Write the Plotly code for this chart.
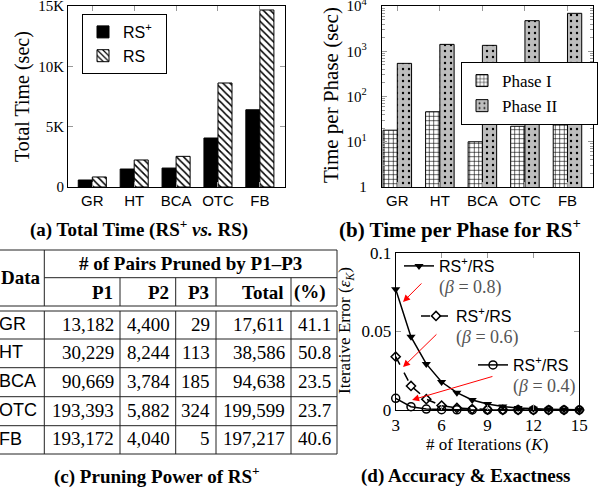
import plotly.graph_objects as go

W, H = 607, 490
SERIF = "Liberation Serif"
SANS = "Liberation Sans"

# ---------------- data ----------------
datasets = ["GR", "HT", "BCA", "OTC", "FB"]
total_rs_plus = [580, 1490, 1570, 4060, 6400]
total_rs = [830, 2240, 2540, 8620, 14670]
phase1 = [18, 46, 10, 22, 25.5]
phase2 = [540, 1420, 1350, 4740, 6890]

iters = [3, 4, 5, 6, 7, 8, 9, 10, 11, 12, 13, 14, 15]
err_b08 = [0.0767, 0.0465, 0.0293, 0.0178, 0.0110, 0.0064, 0.0038, 0.0022, 0.0013, 0.0008, 0.0005, 0.0003, 0.0002]
err_b06 = [0.0339, 0.0153, 0.0069, 0.0028, 0.0013, 0.0006, 0.0003, 0.0001, 0.0001, 0.0, 0.0, 0.0, 0.0]
err_b04 = [0.0074, 0.0021, 0.0006, 0.0002, 0.0001, 0.0, 0.0, 0.0, 0.0, 0.0, 0.0, 0.0, 0.0]

tab_data = ["GR", "HT", "BCA", "OTC", "FB"]
tab_p1 = ["13,182", "30,229", "90,669", "193,393", "193,172"]
tab_p2 = ["4,400", "8,244", "3,784", "5,882", "4,040"]
tab_p3 = ["29", "113", "185", "324", "5"]
tab_total = ["17,611", "38,586", "94,638", "199,599", "197,217"]
tab_pct = ["41.1", "50.8", "23.5", "23.7", "40.6"]
tab_sub_headers = ["P1", "P2", "P3", "Total", "(%)"]

# ---------------- helpers ----------------
def px_x(x):
    return x / W

def px_y(y):
    return 1 - y / H

NB = "\u00a0"
fig = go.Figure()

# (a) total time
fig.add_trace(go.Bar(x=datasets, y=total_rs_plus, name="RS<sup>+</sup>" + NB * 2,
                     marker=dict(color="black", line=dict(color="black", width=1)),
                     xaxis="x", yaxis="y", legend="legend"))
fig.add_trace(go.Bar(x=datasets, y=total_rs, name="RS",
                     marker=dict(color="white", line=dict(color="black", width=1),
                                 pattern=dict(shape="\\", fgcolor="black", bgcolor="white",
                                              size=5, solidity=0.3)),
                     xaxis="x", yaxis="y", legend="legend"))

# (b) time per phase
fig.add_trace(go.Bar(x=datasets, y=phase1, name="Phase I",
                     marker=dict(color="white", line=dict(color="black", width=1),
                                 pattern=dict(shape="+", fgcolor="black", bgcolor="white",
                                              size=4.5, solidity=0.25)),
                     xaxis="x2", yaxis="y2", legend="legend2"))
fig.add_trace(go.Bar(x=datasets, y=phase2, name="Phase II" + NB * 8,
                     marker=dict(color="#bdbdbd", line=dict(color="black", width=1),
                                 pattern=dict(shape=".", fgcolor="black", bgcolor="#bdbdbd",
                                              size=6, solidity=0.12)),
                     xaxis="x2", yaxis="y2", legend="legend2"))

# (d) accuracy
beta_lbl = ("<br><span style='font-family:Liberation Serif;font-size:18px;color:#555'>"
            "(<i>β</i> = {})</span>")
fig.add_trace(go.Scatter(x=iters, y=err_b08, mode="lines+markers",
                         name="RS<sup>+</sup>/RS" + beta_lbl.format("0.8"),
                         line=dict(color="black", width=1.5),
                         marker=dict(symbol="triangle-down", size=8, color="black"),
                         cliponaxis=False, xaxis="x3", yaxis="y3", legend="legend3"))
fig.add_trace(go.Scatter(x=iters, y=err_b06, mode="lines+markers",
                         name="RS<sup>+</sup>/RS" + beta_lbl.format("0.6"),
                         line=dict(color="black", width=1.5, dash="dash"),
                         marker=dict(symbol="diamond-open", size=7, color="black",
                                     line=dict(width=1.5, color="black")),
                         cliponaxis=False, xaxis="x3", yaxis="y3", legend="legend4"))
fig.add_trace(go.Scatter(x=iters, y=err_b04, mode="lines+markers",
                         name="RS<sup>+</sup>/RS" + beta_lbl.format("0.4"),
                         line=dict(color="black", width=1.5),
                         marker=dict(symbol="circle-open", size=8, color="black",
                                     line=dict(width=1.5, color="black")),
                         cliponaxis=False, xaxis="x3", yaxis="y3", legend="legend5"))

# ---------------- axes ----------------
tick_gray = "#999999"
common_ax = dict(showline=True, linecolor="black", linewidth=1, mirror="ticks",
                 ticks="inside", tickcolor=tick_gray, ticklen=5, showgrid=False,
                 zeroline=False, fixedrange=True, automargin=False,
                 ticklabeloverflow="allow")

log_minor = [m * 10 ** e for e in range(0, 4) for m in range(2, 10)]
log_text = ["1", "10<sup>1</sup>", "10<sup>2</sup>", "10<sup>3</sup>", "10<sup>4</sup>"]

TX0, TX1, TY0, TY1 = 0, 340, 245, 460   # table region (pixels)

layout = dict(
    template="none",
    width=W, height=H, margin=dict(l=0, r=0, t=0, b=0, pad=0, autoexpand=False),
    paper_bgcolor="white", plot_bgcolor="white",
    barmode="group", bargap=0.33, bargroupgap=0,
    xaxis=dict(domain=[px_x(68), px_x(285)], range=[-0.58, 4.6], anchor="y",
               tickfont=dict(family=SANS, size=15, color="black"), **common_ax),
    yaxis=dict(domain=[px_y(187), px_y(6)], range=[0, 15000], anchor="x",
               tickvals=[0, 5000, 10000, 15000], ticktext=["0", "5K", "10K", "15K"],
               tickfont=dict(family=SERIF, size=15, color="black"), **common_ax),
    xaxis2=dict(domain=[px_x(382), px_x(593)], range=[-0.36, 4.6], anchor="y2",
                tickfont=dict(family=SANS, size=15, color="black"), **common_ax),
    yaxis2=dict(domain=[px_y(187), px_y(6)], type="log", range=[0, 4], anchor="x2",
                tickvals=[1, 10, 100, 1000, 10000],
                ticktext=[t + NB * 3 for t in log_text],
                tickfont=dict(family=SERIF, size=15, color="black"),
                minor=dict(tickmode="array", tickvals=log_minor, ticks="inside", ticklen=3,
                           tickcolor=tick_gray, showgrid=False),
                **common_ax),
    xaxis3=dict(domain=[px_x(395.7), px_x(579.3)], range=[3, 15], anchor="y3",
                tickvals=[3, 6, 9, 12, 15],
                tickfont=dict(family=SERIF, size=17, color="black"), **common_ax),
    yaxis3=dict(domain=[px_y(410), px_y(252.7)], range=[0, 0.1], anchor="x3",
                tickvals=[0, 0.05, 0.1], ticktext=["0", "0.05", "0.1"],
                tickfont=dict(family=SERIF, size=17, color="black"), **common_ax),
    xaxis4=dict(domain=[px_x(TX0), px_x(TX1)], range=[TX0, TX1], visible=False,
                anchor="y4", fixedrange=True),
    yaxis4=dict(domain=[px_y(TY1), px_y(TY0)], range=[TY1, TY0], visible=False,
                anchor="x4", fixedrange=True),
    legend=dict(x=px_x(82), y=px_y(14), xanchor="left", yanchor="top",
                bordercolor="black", borderwidth=1, bgcolor="white",
                font=dict(family=SANS, size=16, color="black"), tracegroupgap=0),
    legend2=dict(x=px_x(461), y=px_y(62), xanchor="left", yanchor="top",
                 bordercolor="black", borderwidth=1, bgcolor="white",
                 font=dict(family=SERIF, size=17, color="black"), tracegroupgap=0),
    legend3=dict(x=px_x(399), y=px_y(249), xanchor="left", yanchor="top", valign="top",
                 bgcolor="rgba(0,0,0,0)", font=dict(family=SANS, size=16, color="black")),
    legend4=dict(x=px_x(416), y=px_y(299), xanchor="left", yanchor="top", valign="top",
                 bgcolor="rgba(0,0,0,0)", font=dict(family=SANS, size=16, color="black")),
    legend5=dict(x=px_x(473), y=px_y(348), xanchor="left", yanchor="top", valign="top",
                 bgcolor="rgba(0,0,0,0)", font=dict(family=SANS, size=16, color="black")),
    showlegend=True,
)
fig.update_layout(**layout)

annotations = []
shapes = []

# axis titles
def vtitle(text, x, y, size):
    annotations.append(dict(text=text, x=px_x(x), y=px_y(y), xref="paper", yref="paper",
                            xanchor="center", yanchor="middle",
                            showarrow=False, textangle=-90,
                            font=dict(family=SERIF, size=size, color="black")))

vtitle("Total Time (sec)", 23, 97, 20)
vtitle("Time per Phase (sec)", 331, 95, 21)
vtitle("Iterative Error (<i>ε<sub>K</sub></i>)", 346, 331, 17)
annotations.append(dict(text="# of Iterations (<i>K</i>)", x=px_x(487), y=px_y(444),
                        xref="paper", yref="paper", showarrow=False,
                        xanchor="center", yanchor="middle",
                        font=dict(family=SERIF, size=17, color="black")))

# red arrows in (d)
arrows = [((3.48, 0.0687), (4.78, 0.0814)),
          ((3.48, 0.0273), (5.76, 0.0490)),
          ((4.07, 0.0064), (9.42, 0.0216))]
for (hx, hy), (tx, ty) in arrows:
    annotations.append(dict(x=hx, y=hy, ax=tx, ay=ty, xref="x3", yref="y3",
                            axref="x3", ayref="y3", text="", showarrow=True,
                            arrowcolor="red", arrowwidth=1, arrowhead=2, arrowsize=1.4))

# captions
def caption(text, x, y, size=19):
    annotations.append(dict(text="<b>" + text + "</b>", x=px_x(x), y=px_y(y),
                            xref="paper", yref="paper", showarrow=False,
                            xanchor="center", yanchor="middle",
                            font=dict(family=SERIF, size=size, color="black")))

caption("(a) Total Time (RS<sup>+</sup> <i>vs.</i> RS)", 139, 228)
caption("(b) Time per Phase for RS<sup>+</sup>", 460, 228, size=21)
caption("(c) Pruning Power of RS<sup>+</sup>", 157, 475)
caption("(d) Accuracy &amp; Exactness", 466, 476)

# ---------------- table (c) ----------------
col_edges = [0.5, 44.3, 120, 175.7, 216, 291, 337]
h_top, h_mid, h_bot = 250, 277.7, 306
row_lines = [311, 339, 367.7, 396.7, 425.7, 454]
line_style = dict(color="#222222", width=1)

def hline(y, x0, x1):
    shapes.append(dict(type="line", xref="x4", yref="y4", x0=x0, x1=x1, y0=y, y1=y, line=line_style))

def vline(x, y0, y1):
    shapes.append(dict(type="line", xref="x4", yref="y4", x0=x, x1=x, y0=y0, y1=y1, line=line_style))

hline(h_top, -20, col_edges[-1])
hline(h_mid, col_edges[1], col_edges[-1])
hline(h_bot, -20, col_edges[-1])
for y in row_lines:
    hline(y, -20, col_edges[-1])
vline(col_edges[1], h_top, h_bot)
vline(col_edges[-1], h_top, h_bot)
for x in col_edges[2:-1]:
    vline(x, h_mid, h_bot)
for x in col_edges[1:]:
    vline(x, row_lines[0], row_lines[-1])

def ttext(text, x, y, anchor, family=SERIF, size=19, bold=False, xshift=0):
    annotations.append(dict(text=("<b>%s</b>" % text) if bold else text, x=x, y=y,
                            xref="x4", yref="y4", showarrow=False, xanchor=anchor,
                            yanchor="middle", xshift=xshift,
                            font=dict(family=family, size=size, color="black")))

ttext("Data", col_edges[0], 277, "left", bold=True, xshift=-2)
ttext("# of Pairs Pruned by P1–P3", (col_edges[1] + col_edges[-1]) / 2, 263.5, "center", bold=True)
for i, hdr in enumerate(tab_sub_headers):
    if hdr == "(%)":
        ttext(hdr, col_edges[5] + 1, 292, "left", bold=True)
    else:
        ttext(hdr, col_edges[i + 2] - 5, 292, "right", bold=True)

cols = [tab_p1, tab_p2, tab_p3, tab_total, tab_pct]
for r in range(len(tab_data)):
    yc = (row_lines[r] + row_lines[r + 1]) / 2 - 1
    ttext(tab_data[r], col_edges[0], yc, "left", family=SANS, size=18, xshift=-4)
    for c, col in enumerate(cols):
        ttext(col[r], col_edges[c + 2] - 4, yc, "right")

fig.update_layout(annotations=annotations, shapes=shapes)

fig.write_html("out.html", config={"displayModeBar": False},
               post_script="document.body.style.margin='0';")
